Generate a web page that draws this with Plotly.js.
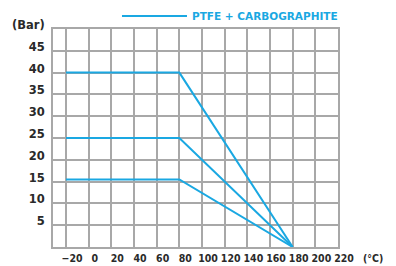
<!DOCTYPE html>
<html><head><meta charset="utf-8">
<script src="https://cdn.plot.ly/plotly-3.0.1.min.js"></script>
<style>html,body{margin:0;padding:0;background:#fff}#c{width:396px;height:266px}</style>
</head><body><div id="c"></div>
<script>
const seriesName = "PTFE + CARBOGRAPHITE";
const tempA = [-20, 80, 180];
const presA = [40, 40, 0];
const tempB = [-20, 80, 180];
const presB = [25, 25, 0];
const tempC = [-20, 80, 180];
const presC = [15.5, 15.5, 0];
const xTicks = [-20, 0, 20, 40, 60, 80, 100, 120, 140, 160, 180, 200, 220];
const yTicks = [5, 10, 15, 20, 25, 30, 35, 40, 45, 50];
const yTickText = ["5", "10", "15", "20", "25", "30", "35", "40", "45", "(Bar)"];
const xUnit = "(°C)";

const blue = "#1aa8e2";
const lineStyle = {color: blue, width: 2};
const traces = [
  {x: tempA, y: presA, mode: "lines", line: lineStyle, name: seriesName, showlegend: true},
  {x: tempB, y: presB, mode: "lines", line: lineStyle, showlegend: false},
  {x: tempC, y: presC, mode: "lines", line: lineStyle, showlegend: false}
];
const yFont = {family: "DejaVu Sans", size: 11.5, color: "#2a2a2a", weight: "bold"};
const xFont = {family: "DejaVu Sans Condensed, DejaVu Sans", size: 10.5, color: "#2a2a2a", weight: "bold"};
const layout = {
  width: 396, height: 266,
  margin: {l: 53, r: 58, t: 29, b: 19, pad: 0, autoexpand: false},
  paper_bgcolor: "#fff", plot_bgcolor: "#fff",
  showlegend: true,
  legend: {x: 0.2245, y: 1.06, xanchor: "left", yanchor: "middle", orientation: "h",
    itemwidth: 65, font: {family: "DejaVu Sans", size: 10.5, color: blue, weight: "bold"},
    bgcolor: "rgba(0,0,0,0)", borderwidth: 0},
  xaxis: {range: [-31.5, 220], tickmode: "array", tickvals: xTicks, tickangle: 0,
    automargin: false,
    ticks: "", showgrid: true, gridcolor: "#a8a8a8", gridwidth: 2,
    showline: true, mirror: true, linecolor: "#a8a8a8", linewidth: 2,
    zeroline: false, tickfont: xFont, ticklabelshift: 6, fixedrange: true},
  yaxis: {range: [0, 50], tickmode: "array", tickvals: yTicks, ticktext: yTickText,
    automargin: false,
    ticks: "", showgrid: true, gridcolor: "#a8a8a8", gridwidth: 2,
    showline: true, mirror: true, linecolor: "#a8a8a8", linewidth: 2,
    zeroline: false, tickfont: yFont, ticklabelshift: -4, ticklabelstandoff: 4, fixedrange: true},
  annotations: [{text: xUnit, xref: "paper", yref: "paper", x: 1.123, y: -0.05,
    xanchor: "center", yanchor: "middle", showarrow: false, font: xFont}]
};
Plotly.newPlot("c", traces, layout, {displayModeBar: false, staticPlot: true});
</script></body></html>
